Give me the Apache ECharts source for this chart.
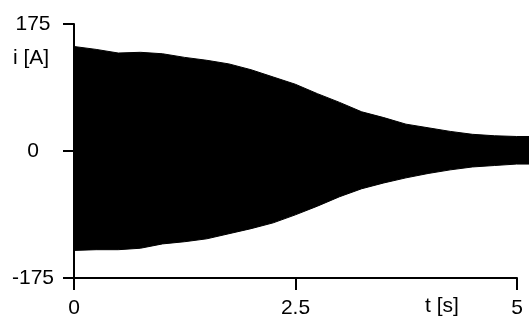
<!DOCTYPE html>
<html>
<head>
<meta charset="utf-8">
<script src="https://cdn.jsdelivr.net/npm/echarts@6/dist/echarts.min.js"></script>
<style>
  html, body { margin: 0; padding: 0; background: #fff; }
  #main { width: 529px; height: 320px; }
</style>
</head>
<body>
<div id="main"></div>
<script>
// time samples [s] and the envelope of the current i [A]
var time = [0, 0.25, 0.5, 0.75, 1.0, 1.25, 1.5, 1.75, 2.0, 2.25, 2.5,
            2.75, 3.0, 3.25, 3.5, 3.75, 4.0, 4.25, 4.5, 4.75, 5.0, 5.14];
var upper = [144, 140, 135, 136, 134, 129, 125, 120, 112, 102, 92,
             79, 67, 54, 46, 37, 32, 27, 23, 21, 20, 20];
var lower = [-137, -136, -136, -134, -128, -125, -121, -114, -107, -99, -88,
             -76, -63, -52, -44, -37, -31, -26, -22, -20, -18, -18];
var xTicks = [0, 2.5, 5];
var yTicks = [-175, 0, 175];
var tEnd = 5.14; // the trace runs a little past the last tick

var font = 'Liberation Sans, Arial, sans-serif';

function pairs(vals) {
    return time.map(function (t, i) { return [t, vals[i]]; });
}

var myChart = echarts.init(document.getElementById('main'));
var option = {
    animation: false,
    grid: [
        { left: 74, right: 12, top: 24, bottom: 42 },  // visible axes
        { left: 74, right: 0, top: 24, bottom: 42 }    // trace (same scale, wider)
    ],
    xAxis: [
        {
            gridIndex: 0,
            type: 'value',
            min: xTicks[0],
            max: xTicks[xTicks.length - 1],
            interval: xTicks[1] - xTicks[0],
            axisLine: { onZero: false, lineStyle: { color: '#000', width: 2 } },
            axisTick: { length: 12, lineStyle: { color: '#000', width: 2 } },
            axisLabel: { margin: 20, fontSize: 21, color: '#000', fontFamily: font },
            splitLine: { show: false }
        },
        {
            gridIndex: 1,
            type: 'value',
            min: xTicks[0],
            max: tEnd,
            show: false
        }
    ],
    yAxis: [
        {
            gridIndex: 0,
            type: 'value',
            min: yTicks[0],
            max: yTicks[yTicks.length - 1],
            interval: yTicks[1] - yTicks[0],
            axisLine: { show: true, onZero: false, lineStyle: { color: '#000', width: 2 } },
            axisTick: { show: true, length: 11, lineStyle: { color: '#000', width: 2 } },
            axisLabel: { margin: 41, align: 'center', fontSize: 21, color: '#000', fontFamily: font },
            splitLine: { show: false }
        },
        {
            gridIndex: 1,
            type: 'value',
            min: yTicks[0],
            max: yTicks[yTicks.length - 1],
            show: false
        }
    ],
    graphic: [
        { type: 'text', left: 13, top: 48,
          style: { text: 'i [A]', fontSize: 21, fill: '#000', fontFamily: font } },
        { type: 'text', left: 425, top: 296,
          style: { text: 't [s]', fontSize: 21, fill: '#000', fontFamily: font } }
    ],
    series: [
        {
            type: 'line',
            xAxisIndex: 1,
            yAxisIndex: 1,
            data: pairs(upper),
            showSymbol: false,
            lineStyle: { color: '#000', width: 1 },
            areaStyle: { color: '#000', opacity: 1, origin: 0 }
        },
        {
            type: 'line',
            xAxisIndex: 1,
            yAxisIndex: 1,
            data: pairs(lower),
            showSymbol: false,
            lineStyle: { color: '#000', width: 1 },
            areaStyle: { color: '#000', opacity: 1, origin: 0 }
        }
    ]
};
myChart.setOption(option);
</script>
</body>
</html>
